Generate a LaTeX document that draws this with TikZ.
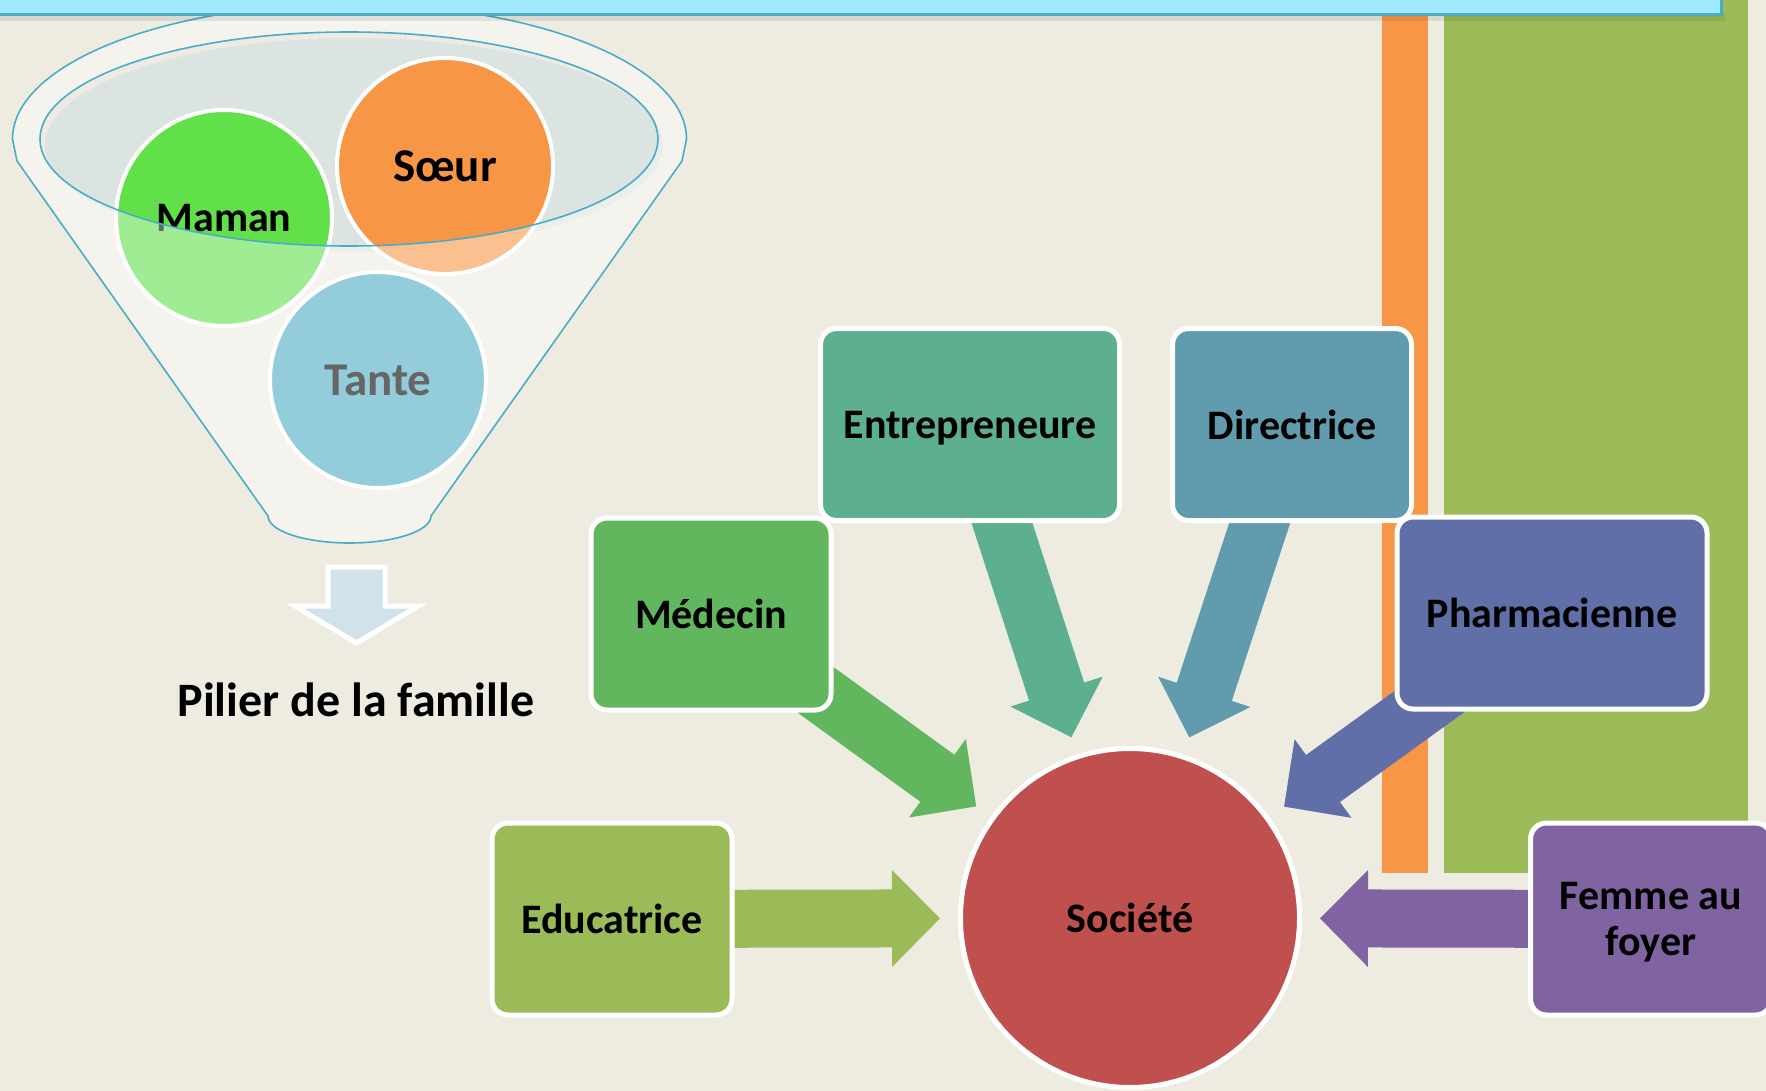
\documentclass[tikz,border=0pt]{standalone}
\usepackage{fontspec}
\setmainfont{Carlito}
\usetikzlibrary{calc}

\definecolor{bgtan}{HTML}{EEECE1}
\definecolor{bannerfill}{HTML}{A0EAFF}
\definecolor{bannerline}{HTML}{4BACC6}
\definecolor{barorange}{HTML}{F79646}
\definecolor{bargreen}{HTML}{9BBB59}
\definecolor{funnelline}{HTML}{4BACC6}
\definecolor{funnelfill}{HTML}{EDEBE4}
\definecolor{openfill}{HTML}{DCE4E2}
\definecolor{mamancol}{HTML}{62E04A}
\definecolor{soeurcol}{HTML}{F79646}
\definecolor{tantecol}{HTML}{4BACC6}
\definecolor{downfill}{HTML}{D0E2EA}
\definecolor{medcol}{HTML}{62B65D}
\definecolor{entcol}{HTML}{5DB08F}
\definecolor{dircol}{HTML}{609CAD}
\definecolor{phacol}{HTML}{616FA8}
\definecolor{educol}{HTML}{9BBB59}
\definecolor{femcol}{HTML}{8064A2}
\definecolor{soccol}{HTML}{C0504D}

\pgfdeclarelayer{backdrop}
\pgfdeclarelayer{links}
\pgfsetlayers{backdrop,links,main}

% block arrow from one node towards another, stopping short of it
\newcommand{\blockarrow}[3]{%
  \fill[#1] let \p1=($(#3)-(#2)$), \n1={atan2(\y1,\x1)},
      \n2={veclen(\x1,\y1)-190}, \n3={veclen(\x1,\y1)-238} in
    ($(#2)+({\n1+90}:29)$) -- ($(#2)+(\n1:\n3)+({\n1+90}:29)$)
    -- ($(#2)+(\n1:\n3)+({\n1+90}:48.5)$) -- ($(#2)+(\n1:\n2)$)
    -- ($(#2)+(\n1:\n3)+({\n1-90}:48.5)$) -- ($(#2)+(\n1:\n3)+({\n1-90}:29)$)
    -- ($(#2)+({\n1-90}:29)$) -- cycle;}

\newcommand{\funnelshape}{(17,-161) -- (12.5,-139)
  arc[start angle=180,end angle=0,x radius=337,y radius=135]
  -- (682,-161) -- (431,-516)
  arc[start angle=0,end angle=-180,x radius=81.5,y radius=27] -- cycle}

\begin{document}
\begin{tikzpicture}[x=1pt,y=1pt,
    role/.style={draw=white,line width=5pt,rounded corners=16pt,minimum height=192pt,
      align=center,font=\fontsize{42}{46}\selectfont\bfseries},
    member/.style={circle,draw=white,line width=4pt,minimum size=216pt,
      font=\fontsize{47}{52}\selectfont\bfseries},
    funnel line/.style={draw=funnelline,line width=1.6pt}]

    \useasboundingbox (0,0) rectangle (1766,-1091);

    % Roles around the society
    \node[role,circle,fill=soccol,minimum size=339pt] (soc) at (1130,-918) {Société};
    \node[role,fill=medcol,minimum width=240pt] (med) at (711,-614) {Médecin};
    \node[role,fill=entcol,minimum width=299pt,text depth=0pt] (ent) at (970,-424.5) {Entrepreneure};
    \node[role,fill=dircol,minimum width=239pt] (dir) at (1292,-424.5) {Directrice};
    \node[role,fill=phacol,minimum width=310pt] (pha) at (1552,-613) {Pharmacienne};
    \node[role,fill=educol,minimum width=240pt] (edu) at (612,-919) {Educatrice};
    \node[role,fill=femcol,minimum width=241pt,text depth=0pt] (fem) at (1651,-919) {Femme au\\foyer};

    \begin{pgfonlayer}{backdrop}
        \fill[bgtan] (0,0) rectangle (1766,-1091);
        \fill[barorange] (1382,0) rectangle (1428,-873);
        \fill[bargreen] (1444,0) rectangle (1748,-873);
    \end{pgfonlayer}

    % Arrows into the society
    \begin{pgfonlayer}{links}
        \blockarrow{medcol}{med}{soc}
        \blockarrow{entcol}{ent}{soc}
        \blockarrow{dircol}{dir}{soc}
        \blockarrow{phacol}{pha}{soc}
        \blockarrow{educol}{edu}{soc}
        \blockarrow{femcol}{fem}{soc}
    \end{pgfonlayer}

    % Funnel of the family
    \fill[funnelfill] \funnelshape;
    \fill[openfill] (354,-145) ellipse [x radius=309,y radius=107];
    \node[member,fill=mamancol,font=\fontsize{42}{46}\selectfont\bfseries] (maman) at (224,-218) {Maman};
    \node[member,fill=soeurcol] (soeur) at (445,-166) {Sœur};
    \node[member,fill=tantecol] (tante) at (378,-380) {Tante};
    \fill[white,opacity=0.4,even odd rule] \funnelshape
        (349,-139) ellipse [x radius=309,y radius=107];
    \draw[funnel line] \funnelshape;
    \draw[funnel line] (349,-139) ellipse [x radius=309,y radius=107];

    \node[font=\fontsize{48}{52}\selectfont\bfseries] (pilier) at (356,-700) {Pilier de la famille};
    \draw[white,line width=5pt,fill=downfill,line join=miter]
        (328,-567) -- (385,-567) -- (385,-606) -- (418,-606) -- (356.5,-643)
        -- (295,-606) -- (328,-606) -- cycle;

    % Banner
    \fill[black,opacity=0.08] (-5,-14) rectangle (1725,-21);
    \draw[bannerline,line width=3pt,fill=bannerfill] (-5,5) rectangle (1721,-15);
\end{tikzpicture}
\end{document}
